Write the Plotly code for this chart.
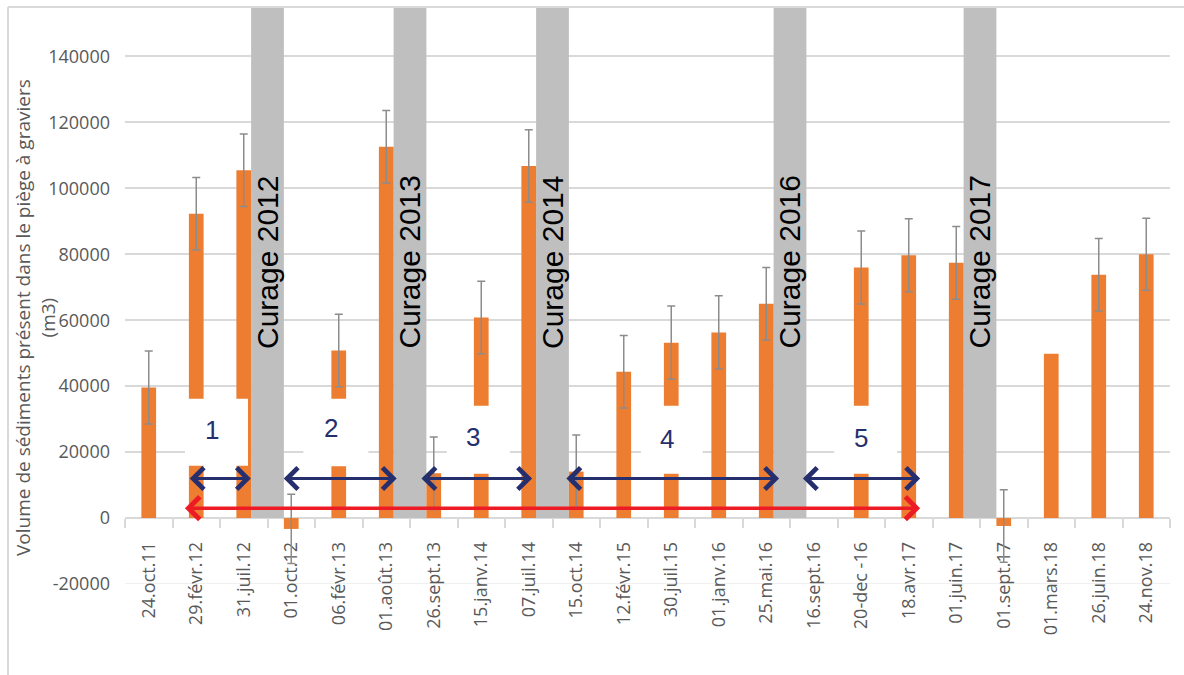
import plotly.graph_objects as go

# Dates de levé et volume de sédiments mesuré (m3)
dates = ["24.oct.11", "29.févr.12", "31.juil.12", "01.oct.12", "06.févr.13", "01.août.13",
         "26.sept.13", "15.janv.14", "07.juil.14", "15.oct.14", "12.févr.15", "30.juil.15",
         "01.janv.16", "25.mai.16", "16.sept.16", "20-dec -16", "18.avr.17", "01.juin.17",
         "01.sept.17", "01.mars.18", "26.juin.18", "24.nov.18"]
volumes = [39600, 92300, 105500, -3300, 50800, 112600,
           13600, 60800, 106800, 14100, 44400, 53200,
           56300, 65000, None, 76000, 79700, 77400,
           -2400, 49800, 73800, 80000]
incertitude = [11100, 11000, 11000, 10500, 11000, 11000,
               11000, 11000, 11000, 11100, 11000, 11100,
               11100, 11000, None, 11100, 11100, 11000,
               11000, None, 11000, 10900]

# Curages : chacun a lieu juste après le levé indiqué
curages = ["Curage 2012", "Curage 2013", "Curage 2014", "Curage 2016", "Curage 2017"]
curage_apres = ["31.juil.12", "01.août.13", "07.juil.14", "25.mai.16", "01.juin.17"]

# Périodes de remplissage (bornes en position de catégorie)
periodes = ["1", "2", "3", "4", "5"]
periode_debut = [0.83, 2.81, 5.71, 8.76, 13.74]
periode_fin = [2.15, 5.22, 8.07, 13.27, 16.24]
periode_totale = (0.73, 16.24)

y_ticks = list(range(-20000, 140001, 20000))

Y_MIN, Y_MAX = -20000, 155000
ORANGE = "#ED7D31"
GRIS = "#BFBFBF"
BLEU = "#262F6E"
ROUGE = "#ED1C24"
TEXTE = "#595959"
GRILLE = "#D9D9D9"

L, R, T, B = 125, 14, 7, 91
W, H = 1184, 675
PW, PH = W - L - R, H - T - B


def px_x(p):
    return (p - L) / PW


def px_y(p):
    return (H - B - p) / PH


x_idx = list(range(len(dates)))
band_x = [dates.index(d) + 0.5 for d in curage_apres]

fig = go.Figure()

# Bandes grises des curages
fig.add_bar(x=band_x, y=[Y_MAX] * len(band_x), width=0.69,
            marker=dict(color=GRIS, line=dict(width=0)), hoverinfo="skip")

# Volumes mesurés
fig.add_bar(x=x_idx, y=volumes, width=0.31,
            marker=dict(color=ORANGE, line=dict(width=0)))

# Barres d'incertitude (uniquement là où elle est connue)
err_idx = [i for i, e in enumerate(incertitude) if e is not None]
fig.add_scatter(x=err_idx, y=[volumes[i] for i in err_idx], mode="markers",
                marker=dict(size=1, opacity=0), hoverinfo="skip",
                error_y=dict(type="data", array=[incertitude[i] for i in err_idx],
                             visible=True, color="#8C8C8C", thickness=1.5, width=4))

shapes = []
# ligne -20000 plus claire
shapes.append(dict(type="line", xref="x", yref="y", x0=-0.5, x1=21.5, y0=-20000, y1=-20000,
                   line=dict(color="#F0F0F0", width=2), layer="between"))

# cadres blancs des numéros de période
boites = [(0.763, 2.089, 15860, 36180), (3.254, 4.624, 15700, 36180),
          (6.273, 7.605, 13440, 34060), (10.36, 11.66, 13440, 34060),
          (14.43, 15.75, 13440, 34060)]
for x0, x1, y0, y1 in boites:
    shapes.append(dict(type="rect", xref="x", yref="y", x0=x0, x1=x1, y0=y0, y1=y1,
                       fillcolor="white", line=dict(width=0), layer="above"))

# bordure de la zone de graphique
shapes.append(dict(type="line", xref="paper", yref="paper", x0=px_x(8), x1=px_x(1184),
                   y0=px_y(7), y1=px_y(7), line=dict(color=GRILLE, width=2), layer="above"))
shapes.append(dict(type="line", xref="paper", yref="paper", x0=px_x(8), x1=px_x(8),
                   y0=px_y(7), y1=px_y(675), line=dict(color=GRILLE, width=2), layer="above"))

annotations = []
for nom, bx in zip(curages, band_x):
    annotations.append(dict(x=bx, y=77500, xref="x", yref="y", text=nom, textangle=-90,
                            showarrow=False, xanchor="center", yanchor="middle",
                            font=dict(family="Liberation Sans", size=30, color="black")))

pos_num = [(1.33, 26780), (3.83, 27180), (6.83, 24570), (10.92, 23960), (15.0, 24350)]
for p, (nx, ny) in zip(periodes, pos_num):
    annotations.append(dict(x=nx, y=ny, xref="x", yref="y", text=p, showarrow=False,
                            xanchor="center", yanchor="middle",
                            font=dict(family="Liberation Sans", size=26, color=BLEU)))

for x0, x1 in zip(periode_debut, periode_fin):
    annotations.append(dict(x=x1, y=12000, ax=x0, ay=12000, xref="x", yref="y",
                            axref="x", ayref="y", text="", showarrow=True,
                            arrowside="end+start", arrowhead=4, startarrowhead=4,
                            arrowsize=1.4, startarrowsize=1.4, arrowwidth=3,
                            arrowcolor=BLEU, standoff=0, startstandoff=0))

annotations.append(dict(x=periode_totale[1], y=3000, ax=periode_totale[0], ay=3000,
                        xref="x", yref="y", axref="x", ayref="y", text="", showarrow=True,
                        arrowside="end+start", arrowhead=4, startarrowhead=4,
                        arrowsize=1.25, startarrowsize=1.25, arrowwidth=3.5,
                        arrowcolor=ROUGE, standoff=0, startstandoff=0))

annotations.append(dict(x=px_x(35), y=px_y(318), xref="paper", yref="paper",
                        text="Volume de sédiments présent dans le piège à graviers<br>(m3)",
                        textangle=-90, showarrow=False, xanchor="center", yanchor="middle",
                        font=dict(family="Open Sans", size=19, color=TEXTE)))

fig.update_layout(
    width=W, height=H,
    margin=dict(l=L, r=R, t=T, b=B, pad=0),
    paper_bgcolor="white", plot_bgcolor="white",
    barmode="overlay", showlegend=False,
    shapes=shapes, annotations=annotations,
    xaxis=dict(range=[-0.5, 21.5], tickmode="array", tickvals=x_idx, ticktext=dates,
               tickangle=-90, tickfont=dict(family="Open Sans", size=18, color=TEXTE),
               anchor="free", position=(0 - Y_MIN) / (Y_MAX - Y_MIN),
               showline=True, linecolor=GRILLE, linewidth=1.5, showgrid=False,
               zeroline=False, ticks="", ticklabelstandoff=16, layer="below traces",
               automargin=False,
               minor=dict(tickmode="array", tickvals=[i - 0.5 for i in range(len(dates) + 1)],
                          ticks="outside", ticklen=9, tickcolor=GRILLE, tickwidth=1.5,
                          showgrid=False)),
    yaxis=dict(range=[Y_MIN, Y_MAX], tickmode="array", tickvals=y_ticks,
               ticktext=[str(v) for v in y_ticks],
               tickfont=dict(family="Open Sans", size=18, color=TEXTE),
               showgrid=True, gridcolor=GRILLE, gridwidth=1.5, zeroline=False,
               showline=False, ticks="", ticklabelstandoff=14, automargin=False),
)

fig.write_html("out.html")
